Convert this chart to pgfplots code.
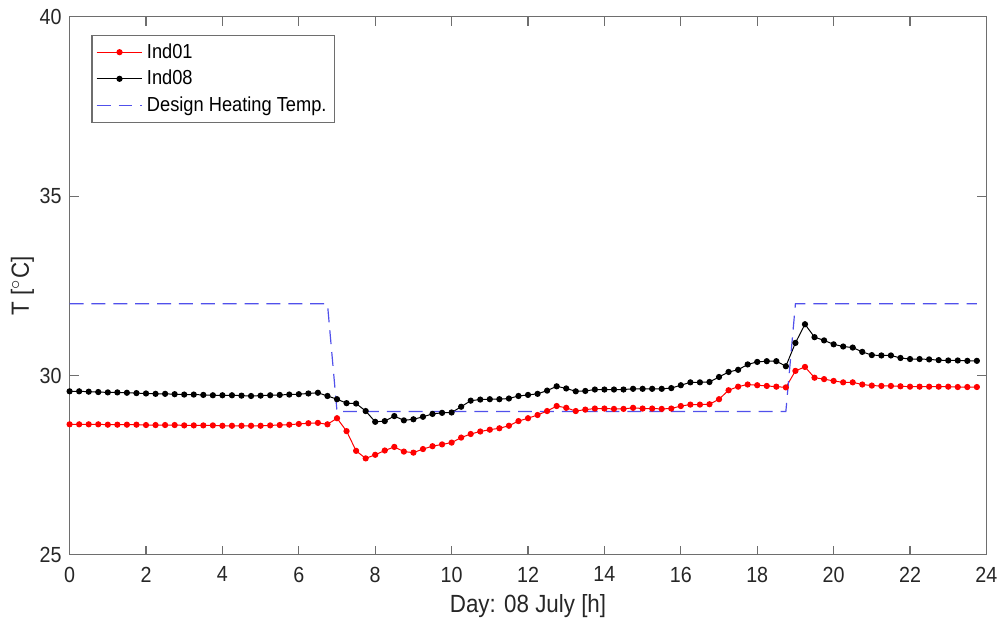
\documentclass[border=0pt]{standalone}
\usepackage{pgfplots}
\pgfplotsset{compat=1.18}
\usepackage{pgfplotstable}
\usepackage{fontspec}
\setmainfont{Liberation Sans}[FakeStretch=0.9]

\definecolor{designblue}{RGB}{80,80,235}
\definecolor{axgray}{RGB}{110,110,110}
\definecolor{txtgray}{RGB}{38,38,38}

% hourly temperatures, 15 min steps
\pgfplotstableread{
t     ind01  ind08
0     28.64  29.56
0.25  28.64  29.56
0.5   28.64  29.55
0.75  28.64  29.54
1     28.63  29.53
1.25  28.63  29.53
1.5   28.63  29.52
1.75  28.63  29.51
2     28.62  29.50
2.25  28.62  29.49
2.5   28.62  29.49
2.75  28.62  29.48
3     28.61  29.47
3.25  28.61  29.47
3.5   28.61  29.46
3.75  28.61  29.45
4     28.60  29.45
4.25  28.60  29.45
4.5   28.60  29.44
4.75  28.60  29.43
5     28.60  29.44
5.25  28.61  29.45
5.5   28.62  29.46
5.75  28.63  29.47
6     28.65  29.48
6.25  28.67  29.50
6.5   28.68  29.52
6.75  28.64  29.43
7     28.81  29.34
7.25  28.45  29.23
7.5   27.90  29.22
7.75  27.69  29.01
8     27.79  28.71
8.25  27.91  28.73
8.5   28.01  28.87
8.75  27.88  28.75
9     27.85  28.78
9.25  27.95  28.85
9.5   28.03  28.93
9.75  28.08  28.96
10    28.13  28.97
10.25 28.27  29.13
10.5  28.37  29.30
10.75 28.44  29.33
11    28.49  29.34
11.25 28.53  29.34
11.5  28.60  29.36
11.75 28.73  29.43
12    28.81  29.46
12.25 28.90  29.49
12.5  29.01  29.58
12.75 29.15  29.70
13    29.10  29.64
13.25 29.01  29.56
13.5  29.05  29.57
13.75 29.08  29.61
14    29.08  29.61
14.25 29.07  29.61
14.5  29.07  29.61
14.75 29.10  29.63
15    29.08  29.63
15.25 29.08  29.63
15.5  29.07  29.63
15.75 29.08  29.65
16    29.15  29.73
16.25 29.19  29.81
16.5  29.19  29.81
16.75 29.20  29.82
17    29.34  29.96
17.25 29.59  30.10
17.5  29.69  30.16
17.75 29.75  30.31
18    29.73  30.38
18.25 29.71  30.40
18.5  29.69  30.40
18.75 29.67  30.26
19    30.13  30.91
19.25 30.24  31.43
19.5  29.94  31.07
19.75 29.90  30.98
20    29.85  30.87
20.25 29.81  30.81
20.5  29.81  30.78
20.75 29.75  30.66
21    29.72  30.57
21.25 29.71  30.56
21.5  29.71  30.56
21.75 29.70  30.49
22    29.69  30.46
22.25 29.69  30.46
22.5  29.69  30.45
22.75 29.69  30.43
23    29.69  30.42
23.25 29.68  30.42
23.5  29.68  30.41
23.75 29.68  30.41
}\temps

\begin{document}
\begin{tikzpicture}
\begin{axis}[
  scale only axis,
  width=461pt, height=270.5pt,
  xmin=0, xmax=24, ymin=25, ymax=40,
  xtick={0,2,...,24}, ytick={25,30,35,40},
  tick align=inside,
  major tick length=4.5pt,
  axis line style={axgray, line width=0.6pt},
  every tick/.style={axgray, line width=0.6pt},
  /pgf/number format/assume math mode=true,
  tick label style={font=\fontsize{11}{13}\selectfont, text=txtgray},
  xticklabel style={yshift=-2.5pt},
  yticklabel style={xshift=-0.5pt},
  xlabel={Day: 08 July [h]},
  ylabel={T [$^{\circ}$C]},
  label style={font=\fontsize{12.5}{14}\selectfont, text=txtgray},
  xlabel style={yshift=1pt},
  ylabel style={yshift=-4pt},
  legend cell align=left,
  legend style={at={(axis description cs:0,1)}, anchor=north west,
    xshift=11pt, yshift=-9pt, draw=axgray, line width=0.6pt,
    font=\fontsize{10.2}{12}\selectfont, row sep=0.5pt, inner xsep=2pt, inner ysep=2pt},
  legend image code/.code={
    \draw[mark repeat=2, mark phase=2, #1]
      plot coordinates {(0pt,0pt) (11.5pt,0pt) (23pt,0pt)};},
]
\addplot[red, line width=0.5pt, mark=*, mark size=1.3pt] table[x=t, y=ind01] {\temps};
\addlegendentry{Ind01}
\addplot[black, line width=0.5pt, mark=*, mark size=1.3pt] table[x=t, y=ind08] {\temps};
\addlegendentry{Ind08}
\addplot[designblue, line width=0.6pt, dash pattern=on 7pt off 4pt] coordinates {
  (0,32) (6.75,32) (7,29) (18.75,29) (19,32) (23.75,32)};
\addlegendentry{Design Heating Temp.}
\end{axis}
\path ([xshift=-35pt,yshift=8.5pt]current axis.north west) ([xshift=6pt,yshift=-34pt]current axis.south east);
\end{tikzpicture}
\end{document}
